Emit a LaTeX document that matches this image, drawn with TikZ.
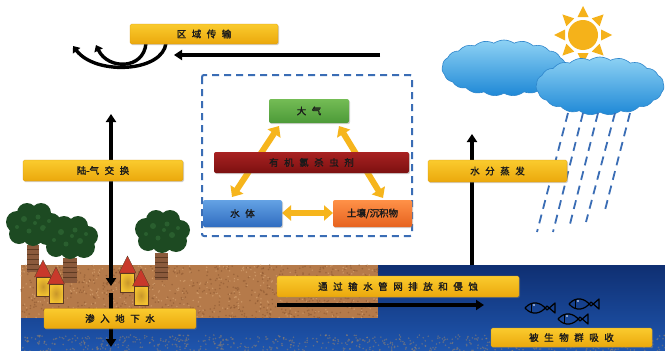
\documentclass[tikz,border=0pt]{standalone}
\usepackage{fontspec}
\newfontfamily\cjk{Noto Sans CJK SC}[WordSpace=2.6, FakeBold=1.6]
\usetikzlibrary{arrows.meta,shapes.symbols,shadows}
\definecolor{lblTop}{HTML}{FACB2E}
\definecolor{lblBot}{HTML}{EBA80C}
\definecolor{lblEdge}{HTML}{D99A10}
\definecolor{txt}{HTML}{1A1A1A}
\definecolor{airTop}{HTML}{74BC55}
\definecolor{airBot}{HTML}{4C9A38}
\definecolor{ocpTop}{HTML}{A82222}
\definecolor{ocpBot}{HTML}{7C1010}
\definecolor{watTop}{HTML}{64A2E4}
\definecolor{watBot}{HTML}{2F6CC0}
\definecolor{soilTop}{HTML}{FF9148}
\definecolor{soilBot}{HTML}{E6621E}
\definecolor{flow}{HTML}{F6B51C}
\definecolor{frame}{HTML}{3A6DB5}
\definecolor{sun}{HTML}{F5B21A}
\definecolor{cloudTop}{HTML}{8ED2F4}
\definecolor{cloudBot}{HTML}{1E88D6}
\definecolor{cloudEdge}{HTML}{2E86CC}
\definecolor{seaTop}{HTML}{0F2F72}
\definecolor{seaBot}{HTML}{1F56AE}
\definecolor{earth}{HTML}{B57A4A}
\definecolor{earthDark}{HTML}{8A5530}
\definecolor{earthLight}{HTML}{DDAA78}
\definecolor{silt}{HTML}{A88A66}
\definecolor{leaf}{HTML}{1D4A22}
\definecolor{leafLight}{HTML}{3A7A3F}
\definecolor{bark}{HTML}{8B5A3C}
\definecolor{barkDark}{HTML}{5E3A22}
\definecolor{wall}{HTML}{F2C230}
\definecolor{wallMid}{HTML}{C8962A}
\definecolor{roof}{HTML}{C8392B}
\begin{document}
\begin{tikzpicture}[x=1pt,y=-1pt,
  lbl/.style={rectangle, rounded corners=1.5pt, top color=lblTop, bottom color=lblBot,
    draw=lblEdge, line width=0.3pt, inner sep=0pt, text=txt,
    font=\cjk\fontsize{9.5}{10}\selectfont,
    drop shadow={shadow xshift=1pt, shadow yshift=-1.2pt, opacity=0.35}},
  compart/.style={rectangle, rounded corners=2pt, inner sep=0pt, text=txt,
    font=\cjk\fontsize{9.5}{10}\selectfont,
    drop shadow={shadow xshift=1pt, shadow yshift=-1.2pt, opacity=0.35}},
  flowarrow/.style={flow, line width=6pt, {Triangle[length=9pt,width=15pt]}-{Triangle[length=9pt,width=15pt]}},
  blkarrow/.style={black, line width=3.6pt, -{Triangle[length=8pt,width=10pt]}},
  curlarrow/.style={black, line width=3.4pt, line cap=round, -{Triangle[length=6pt,width=9pt]}},
  rain/.style={frame, line width=1.8pt, dash pattern=on 9pt off 6pt},
  cloudshape/.style={cloud, cloud puffs=19, cloud puff arc=70, aspect=2.1,
    draw=cloudEdge, line width=0.6pt, top color=cloudTop, bottom color=cloudBot, inner sep=0pt},
  canopy/.pic={
    \fill[leaf] (-16,-3) circle (11) (-6,-12) circle (10) (8,-12) circle (10)
      (18,-2) circle (10) (14,9) circle (11) (0,11) circle (10) (-14,9) circle (10) (0,0) circle (15);
    \fill[leafLight, opacity=0.45] (-9,-6) circle (3) (5,-8) circle (2.5) (10,3) circle (3)
      (-4,6) circle (2.5) (-16,2) circle (2) (16,-4) circle (2) (2,-2) circle (2);
  },
  house/.pic={
    \fill[roof, draw=barkDark, line width=0.4pt] (-8.5,0) -- (0,-17) -- (8.5,0) -- cycle;
    \shade[inner color=wallMid, outer color=wall, draw=barkDark, line width=0.5pt] (-7,0) rectangle (7,19);
  },
  fish/.pic={
    \draw[black, line width=1.2pt, line join=round]
      (0,0) .. controls (7,-8) and (16,-6) .. (22,2) -- (30,-5) -- (30,5) -- (22,-2)
      .. controls (16,6) and (7,8) .. (0,0);
    \draw[black, line width=1pt] (6,-4) -- (6,4);
    \fill[white] (9,-3) circle (0.8);
  }]
\useasboundingbox (0,0) rectangle (665,351);
\fill[white] (0,0) rectangle (665,351);

% sun behind the clouds
\foreach \a in {0,45,...,315}{
  \fill[sun] ({583+29*cos(\a)},{35+29*sin(\a)})
    -- ({583+18*cos(\a)-5.5*sin(\a)},{35+18*sin(\a)+5.5*cos(\a)})
    -- ({583+18*cos(\a)+5.5*sin(\a)},{35+18*sin(\a)-5.5*cos(\a)}) -- cycle;
}
\fill[sun] (583,35) circle (15);

% clouds
\node[cloudshape, minimum width=124pt, minimum height=56pt] (cloudA) at (504,68) {};
\node[cloudshape, minimum width=128pt, minimum height=58pt] (cloudB) at (600,86) {};

% rain
\draw[rain] (568,113) -- (537,232);
\draw[rain] (583,113) -- (553,232);
\draw[rain] (598,113) -- (569,228);
\draw[rain] (615,113) -- (586,222);
\draw[rain] (630,113) -- (604,214);

% ground: water body and soil
\shade[top color=seaTop, bottom color=seaBot] (21,265) rectangle (665,351);
\fill[earth] (21,265) rectangle (378,318);
\pgfmathsetseed{17}
\foreach \i in {1,...,650}{
  \pgfmathsetmacro\xx{21+rnd*357}
  \pgfmathsetmacro\yy{265+rnd*53}
  \fill[earthDark, opacity=0.55] (\xx,\yy) circle (0.9);
}
\foreach \i in {1,...,450}{
  \pgfmathsetmacro\xx{21+rnd*357}
  \pgfmathsetmacro\yy{265+rnd*53}
  \fill[earthLight, opacity=0.6] (\xx,\yy) circle (0.8);
}
% sediment on the bottom
\foreach \i in {1,...,700}{
  \pgfmathsetmacro\xx{21+rnd*644}
  \pgfmathsetmacro\yy{335+rnd*16}
  \fill[silt, opacity=0.45] (\xx,\yy) circle (0.9);
}

% trees
\fill[bark] (27,245) rectangle (39,272);
\fill[bark] (63,258) rectangle (77,283);
\fill[bark] (155,253) rectangle (168,280);
\foreach \y in {249,254,...,270} \draw[barkDark, line width=1pt] (27,\y) -- (39,\y);
\foreach \y in {262,267,...,281} \draw[barkDark, line width=1pt] (63,\y) -- (77,\y);
\foreach \y in {257,262,...,278} \draw[barkDark, line width=1pt] (155,\y) -- (168,\y);
\pic at (33,225) {canopy};
\pic at (70,238) {canopy};
\pic at (162,232) {canopy};

% houses
\pic at (43,277) {house};
\pic at (56,284) {house};
\pic at (127.5,273) {house};
\pic at (141,286) {house};

% fish
\pic at (525,308) {fish};
\pic at (569,304) {fish};
\pic at (558,319) {fish};

% transfer box of the compartments
\draw[frame, line width=2pt, dash pattern=on 7pt off 5pt, rounded corners=2pt] (202,75) rectangle (412,236);

\coordinate (airL) at (279,126);
\coordinate (watT) at (232,197);
\coordinate (airR) at (339,126);
\coordinate (solT) at (383,198);
\coordinate (watR) at (282,213);
\coordinate (solL) at (333,213);
\draw[flowarrow] (airL) -- (watT);
\draw[flowarrow] (airR) -- (solT);
\draw[flowarrow] (watR) -- (solL);

\node[compart, top color=airTop, bottom color=airBot, minimum width=80pt, minimum height=24pt] (air) at (309,111) {大 气};
\node[compart, top color=ocpTop, bottom color=ocpBot, minimum width=195pt, minimum height=21pt] (ocp) at (311.5,162.5) {有 机 氯 杀 虫 剂};
\node[compart, top color=watTop, bottom color=watBot, minimum width=79pt, minimum height=27pt] (water) at (242.5,213.5) {水 体};
\node[compart, top color=soilTop, bottom color=soilBot, minimum width=79pt, minimum height=27pt] (soil) at (372.5,213.5) {土壤/沉积物};

% exchange arrows
\coordinate (lxTop) at (111,114);
\coordinate (lxBot) at (111,286);
\coordinate (gwTop) at (111,293);
\coordinate (gwBot) at (111,347);
\draw[blkarrow, {Triangle[length=8pt,width=10pt]}-{Triangle[length=8pt,width=10pt]}] (lxBot) -- (lxTop);
\draw[blkarrow] (gwTop) -- (gwBot);

\coordinate (evBot) at (472,265);
\coordinate (evTop) at (472,134);
\draw[blkarrow] (evBot) -- (evTop);

\coordinate (trR) at (380,55);
\coordinate (trL) at (174,55);
\draw[blkarrow] (trR) -- (trL);

\coordinate (cu1s) at (166,43);
\coordinate (cu1e) at (73,46);
\coordinate (cu2s) at (146,43);
\coordinate (cu2e) at (96,45);
\draw[curlarrow] (cu1s) .. controls (163,72) and (96,76) .. (cu1e);
\draw[curlarrow] (cu2s) .. controls (144,70) and (108,70) .. (cu2e);

\coordinate (pipeL) at (277,305);
\coordinate (pipeR) at (484,305);
\draw[blkarrow] (pipeL) -- (pipeR);

% labels
\node[lbl, minimum width=148pt, minimum height=20pt] (regional) at (204,34) {区 域 传 输};
\node[lbl, minimum width=160pt, minimum height=21pt] (landair) at (103,170.5) {陆-气 交 换};
\node[lbl, minimum width=139pt, minimum height=22pt] (evap) at (497.5,171) {水 分 蒸 发};
\node[lbl, minimum width=242pt, minimum height=21pt] (pipe) at (398,286.5) {通 过 输 水 管 网 排 放 和 侵 蚀};
\node[lbl, minimum width=152pt, minimum height=20pt] (ground) at (120,318.5) {渗 入 地 下 水};
\node[lbl, minimum width=161pt, minimum height=19pt] (biota) at (571.5,337.5) {被 生 物 群 吸 收};
\end{tikzpicture}
\end{document}
